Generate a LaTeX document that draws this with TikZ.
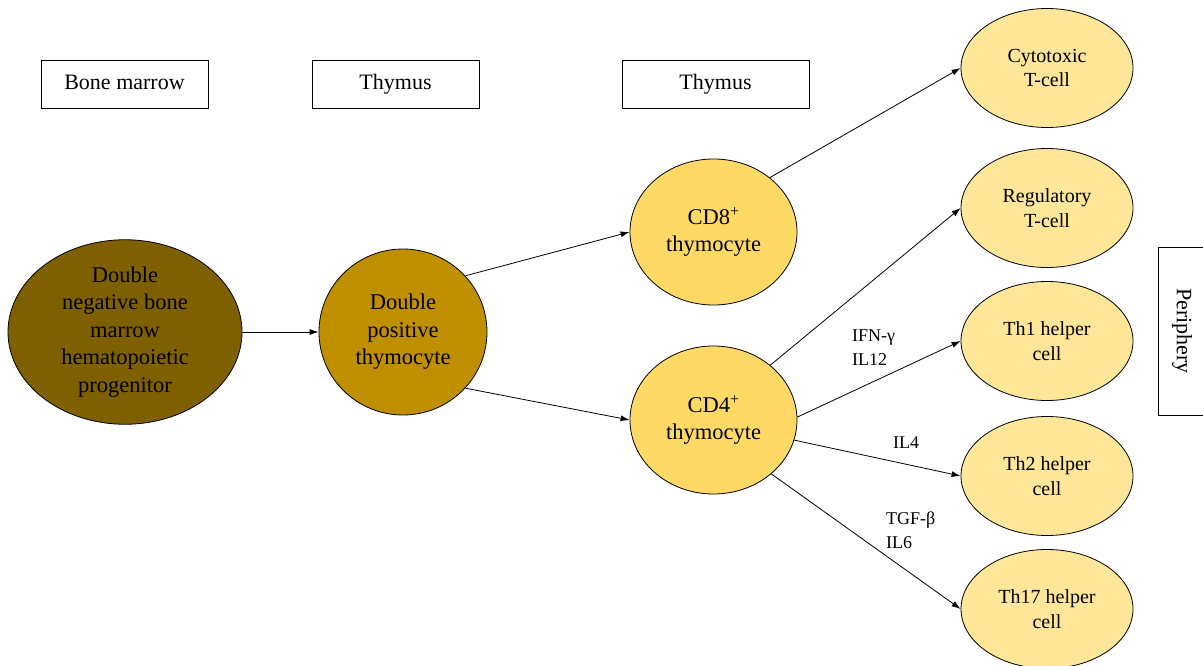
\documentclass[tikz,border=0pt]{standalone}
\usepackage{fontspec}
\setmainfont{Liberation Serif}
\usetikzlibrary{shapes.geometric,arrows.meta}
\definecolor{darkgold}{HTML}{7F6000}
\definecolor{midgold}{HTML}{BF8F00}
\definecolor{softgold}{HTML}{FFD966}
\definecolor{palegold}{HTML}{FFE699}
\begin{document}
\begin{tikzpicture}[x=1pt,y=-1pt,
        place/.style={draw,line width=0.8pt,minimum height=48pt,inner sep=0pt,
            text height=15.5pt,text depth=5pt,font=\fontsize{22}{26}\selectfont},
        cell/.style={ellipse,draw,line width=0.8pt,inner sep=0pt,align=center,
            font=\fontsize{22.5}{27.5}\selectfont},
        tcell/.style={cell,fill=palegold,minimum width=172pt,minimum height=119pt,
            font=\fontsize{20}{24.5}\selectfont},
        arr/.style={-{Latex[length=9pt,width=6pt]},line width=0.8pt},
        cyto/.style={align=left,inner sep=0pt,font=\fontsize{18}{24}\selectfont}]
        \useasboundingbox (0,0) rectangle (1203,666);

        % Orte
        \node[place,minimum width=167pt] (marrow) at (124.5,84) {Bone marrow};
        \node[place,minimum width=167pt] (thymusA) at (395.5,84) {Thymus};
        \node[place,minimum width=187pt] (thymusB) at (715.5,84) {Thymus};
        \node[place,minimum width=168pt,rotate=-90] (periph) at (1182,331) {Periphery};

        % Vorlaeufer und Thymozyten
        \node[cell,fill=darkgold,minimum width=234pt,minimum height=171pt] (dn) at (125,332)
            {Double\\negative bone\\marrow\\hematopoietic\\progenitor};
        \node[cell,fill=midgold,minimum width=168pt,minimum height=166pt] (dp) at (403,332)
            {Double\\positive\\thymocyte};
        \node[cell,fill=softgold,minimum width=167pt,minimum height=146pt] (cd8) at (713.5,232)
            {CD8\textsuperscript{+}\\thymocyte};
        \node[cell,fill=softgold,minimum width=167pt,minimum height=148pt] (cd4) at (713.5,420)
            {CD4\textsuperscript{+}\\thymocyte};

        % reife T-Zellen
        \node[tcell] (cytotox) at (1047,68) {Cytotoxic\\T-cell};
        \node[tcell] (treg) at (1047,208) {Regulatory\\T-cell};
        \node[tcell] (th1) at (1047,341) {Th1 helper\\cell};
        \node[tcell] (th2) at (1047,476) {Th2 helper\\cell};
        \node[tcell] (th17) at (1047,609) {Th17 helper\\cell};

        \draw[arr] (dn.east) -- (dp.west);
        \draw[arr] (dp.42) -- (cd8.west);
        \draw[arr] (dp.-42) -- (cd4.west);
        \draw[arr] (cd8.44) -- (cytotox.west);
        \draw[arr] (cd4.44) -- (treg.west);
        \draw[arr] (cd4.2) -- (th1.west);
        \draw[arr] (cd4.-14) -- (th2.west);
        \draw[arr] (cd4.-43) -- (th17.west);

        % Zytokine
        \node[cyto,anchor=west] (ifn) at (852,348) {IFN-γ\\IL12};
        \node[cyto] (il4) at (906,443) {IL4};
        \node[cyto,anchor=west] (tgf) at (886,530) {TGF-β\\IL6};
\end{tikzpicture}
\end{document}
